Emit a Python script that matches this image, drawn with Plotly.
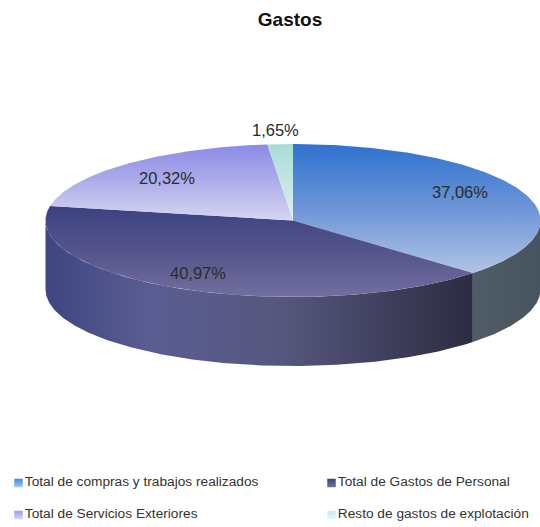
import numpy as np
import plotly.graph_objects as go

categories = ["Total de compras y trabajos realizados", "Total de Gastos de Personal",
              "Total de Servicios Exteriores", "Resto de gastos de explotación"]
values = [37.06, 40.97, 20.32, 1.65]
title = "Gastos"

# Pie geometry in page pixels
CX, CY, RX, RY, DEPTH = 293.0, 220.5, 247.5, 76.5, 69.0
top_scales = [
    [[0, "#2f72d0"], [0.5, "#6d95d6"], [1, "#b0c4e4"]],
    [[0, "#3b4180"], [0.5, "#55558c"], [1, "#726e9f"]],
    [[0, "#8b8ae6"], [0.5, "#aeaeea"], [1, "#d6d6f2"]],
    [[0, "#a9dcd6"], [1, "#dcefee"]],
]
swatch_top = ["#3f86e4", "#3b4180", "#9a9af0", "#c4ecec"]
swatch_bot = ["#a9c8f0", "#72709f", "#d6d6f6", "#e6f6f6"]
label_xy = [(460, 192), (198, 273), (167, 178), (275, 130)]
legend_xy = [(18.5, 483), (331.5, 483), (18.5, 515), (331.5, 515)]

fig = go.Figure()


def arc(a0, a1):
    t = np.radians(np.linspace(a0, a1, 181))
    return CX + RX * np.sin(t), CY - RY * np.cos(t)


edges = np.concatenate([[0], np.cumsum(values)]) * 3.6
edges[-1] = 360

# Side walls (visible front half only)
wall_specs = [
    (90, edges[1], [[0, "#47535e"], [1, "#505c67"]], 541, 472),
    (edges[1], 270, [[0, "#3f4581"], [0.25, "#5a5d92"], [0.55, "#56577e"], [1, "#2c2c42"]], 45, 472),
]
for a0, a1, cs, start, stop in wall_specs:
    x, y = arc(a0, a1)
    fig.add_trace(go.Scatter(
        x=np.concatenate([x, x[::-1]]), y=np.concatenate([y, y[::-1] + DEPTH]),
        mode="lines", line=dict(width=0), fill="toself", hoverinfo="skip", showlegend=False,
        fillgradient=dict(type="horizontal", colorscale=cs, start=start, stop=stop),
    ))

# Top faces
for i, (name, val) in enumerate(zip(categories, values)):
    x, y = arc(edges[i], edges[i + 1])
    fig.add_trace(go.Scatter(
        x=np.concatenate([[CX], x, [CX]]), y=np.concatenate([[CY], y, [CY]]),
        mode="lines", line=dict(width=0), fill="toself", name=name, showlegend=False,
        hovertemplate=f"{name}: {val:.2f}%<extra></extra>",
        fillgradient=dict(type="vertical", colorscale=top_scales[i],
                          start=float(y.min()), stop=float(max(y.max(), CY))),
    ))

# Legend entries: gradient square + label
for i, name in enumerate(categories):
    fig.add_trace(go.Scatter(
        x=[legend_xy[i][0]], y=[legend_xy[i][1]], mode="markers+text", name=name, showlegend=False,
        marker=dict(symbol="square", size=8.5, color=swatch_top[i],
                    gradient=dict(type="vertical", color=swatch_bot[i]), line=dict(width=0)),
        text=[name], textposition="middle right",
        textfont=dict(family="Liberation Sans", size=13.7, color="#333333"),
        hoverinfo="skip",
    ))

# Value labels
for i, val in enumerate(values):
    fig.add_annotation(x=label_xy[i][0], y=label_xy[i][1], xref="x", yref="y", showarrow=False,
                       text=f"{val:.2f}%".replace(".", ","),
                       font=dict(family="Liberation Sans", size=16.5, color="#2b2b2b"))

fig.update_layout(
    width=540, height=527, margin=dict(l=0, r=0, t=0, b=0),
    paper_bgcolor="white", plot_bgcolor="white", showlegend=False,
    title=dict(text=f"<b>{title}</b>", x=290 / 540, xanchor="center", y=1 - 19 / 527, yanchor="middle",
               font=dict(family="Liberation Sans", size=19, color="#111111")),
    xaxis=dict(range=[0, 540], visible=False, fixedrange=True),
    yaxis=dict(range=[527, 0], visible=False, fixedrange=True),
)
fig.write_html("out.html", config=dict(displayModeBar=False),
               post_script="document.body.style.margin='0';document.body.style.overflow='hidden';")
